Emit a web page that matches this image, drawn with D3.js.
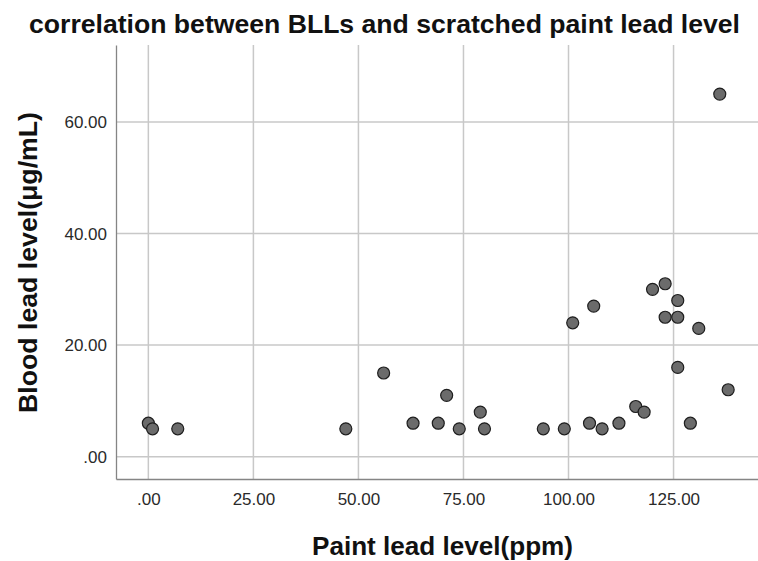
<!DOCTYPE html>
<html>
<head>
<meta charset="utf-8">
<script src="https://cdn.jsdelivr.net/npm/d3@7"></script>
<style>
  body { margin: 0; background: #fff; }
  svg { display: block; }
</style>
</head>
<body>
<svg id="chart" width="758" height="561"></svg>
<script>
// paint lead (ppm) vs blood lead (ug/mL)
var paintLead = [0, 1, 7, 47, 56, 63, 69, 71, 74, 79, 80, 94, 99, 101, 105, 106, 108, 112, 116, 118, 120, 123, 123, 126, 126, 126, 129, 131, 136, 138]
var bloodLead = [6, 5, 5, 5, 15, 6, 6, 11, 5, 8, 5, 5, 5, 24, 6, 27, 5, 6, 9, 8, 30, 31, 25, 28, 25, 16, 6, 23, 65, 12]
var xTicks = [0, 25, 50, 75, 100, 125]
var yTicks = [0, 20, 40, 60]

var titleText = "correlation between BLLs and scratched paint lead level"
var xTitle = "Paint lead level(ppm)"
var yTitle = "Blood lead level(\u03bcg/mL)"

var svg = d3.select("#chart")
var plotLeft = 116, plotRight = 758, plotTop = 45, plotBottom = 479

var xScale = d3.scaleLinear().domain([-7.7, 145.1]).range([plotLeft, plotRight])
var yScale = d3.scaleLinear().domain([-4.0, 73.8]).range([plotBottom, plotTop])

var fmt = function (v) { return v == 0 ? ".00" : d3.format(".2f")(v) }

// grid
svg.append("g")
  .selectAll("line")
  .data(xTicks)
  .enter()
  .append("line")
  .attr("x1", function (d) { return xScale(d) })
  .attr("x2", function (d) { return xScale(d) })
  .attr("y1", plotTop)
  .attr("y2", plotBottom)
  .style("stroke", "#c8c8c8")
  .style("stroke-width", 1.5)

svg.append("g")
  .selectAll("line")
  .data(yTicks)
  .enter()
  .append("line")
  .attr("x1", plotLeft)
  .attr("x2", plotRight)
  .attr("y1", function (d) { return yScale(d) })
  .attr("y2", function (d) { return yScale(d) })
  .style("stroke", "#c8c8c8")
  .style("stroke-width", 1.5)

// axes (no tick marks, just the line and labels)
var xAxis = svg.append("g")
  .attr("transform", "translate(0," + plotBottom + ")")
  .call(d3.axisBottom(xScale).tickValues(xTicks).tickFormat(fmt).tickSize(0).tickPadding(14))
var yAxis = svg.append("g")
  .attr("transform", "translate(" + plotLeft + ",0)")
  .call(d3.axisLeft(yScale).tickValues(yTicks).tickFormat(fmt).tickSize(0).tickPadding(9))

xAxis.select(".domain").style("stroke", "#858585").style("stroke-width", 1.3)
yAxis.select(".domain").style("stroke", "#858585").style("stroke-width", 1.3)
svg.selectAll(".tick text")
  .style("font-family", "Liberation Sans, Arial, sans-serif")
  .style("font-size", "17px")
  .style("fill", "#2a2a2a")

// points
svg.append("g")
  .selectAll("circle")
  .data(paintLead.map(function (p, i) { return [p, bloodLead[i]] }))
  .enter()
  .append("circle")
  .attr("cx", function (d) { return xScale(d[0]) })
  .attr("cy", function (d) { return yScale(d[1]) })
  .attr("r", 6)
  .style("fill", "#6b6b6b")
  .style("stroke", "#1e1e1e")
  .style("stroke-width", 1.2)

// titles
svg.append("text")
  .attr("x", 29)
  .attr("y", 33)
  .attr("textLength", 711)
  .attr("lengthAdjust", "spacingAndGlyphs")
  .style("font-family", "Liberation Sans, Arial, sans-serif")
  .style("font-weight", "bold")
  .style("font-size", "25px")
  .style("fill", "#111")
  .text(titleText)

svg.append("text")
  .attr("x", 312)
  .attr("y", 555)
  .attr("textLength", 261)
  .attr("lengthAdjust", "spacingAndGlyphs")
  .style("font-family", "Liberation Sans, Arial, sans-serif")
  .style("font-weight", "bold")
  .style("font-size", "25px")
  .style("fill", "#111")
  .text(xTitle)

svg.append("text")
  .attr("transform", "translate(37,413)rotate(-90)")
  .attr("textLength", 301)
  .attr("lengthAdjust", "spacingAndGlyphs")
  .style("font-family", "Liberation Sans, Arial, sans-serif")
  .style("font-weight", "bold")
  .style("font-size", "25px")
  .style("fill", "#111")
  .text(yTitle)
</script>
</body>
</html>
